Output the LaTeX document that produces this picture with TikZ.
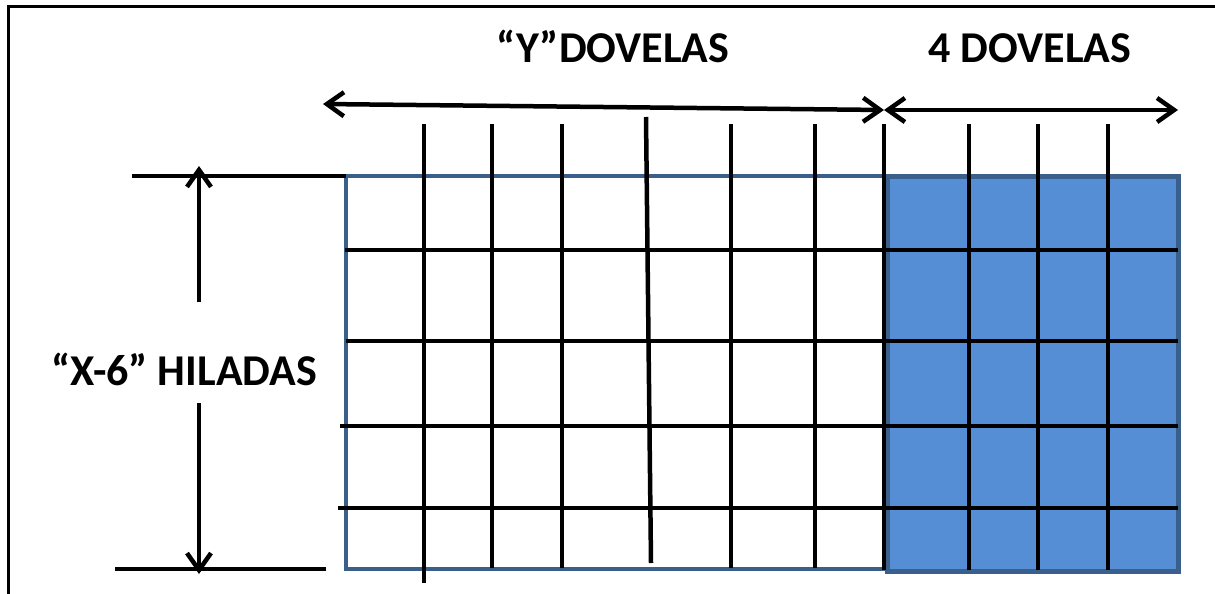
\documentclass[tikz,border=0pt]{standalone}
\usepackage{fontspec}
\setmainfont{Carlito}
\usetikzlibrary{arrows.meta}
\definecolor{edgeblue}{HTML}{3A5F8B}
\definecolor{fillblue}{HTML}{558ED5}
\begin{document}
\begin{tikzpicture}[x=1pt,y=-1pt,
  lbl/.style={font=\fontsize{44}{50}\selectfont\bfseries, inner sep=0pt, anchor=base},
  gridline/.style={line width=4.5pt, black},
  dimline/.style={line width=4.5pt, black},
  dimarrow/.style={dimline, {Straight Barb[length=17pt,width=24pt]}-{Straight Barb[length=17pt,width=24pt]}},
  uparrow/.style={dimline, -{Straight Barb[length=17pt,width=24pt]}}]
\useasboundingbox (0,0) rectangle (1215,594);

% outer frame (only top and left edges fall inside the page)
\draw[line width=3pt] (8,594) -- (8,7) -- (1215,7);

% panel of "Y" segments (white) and the 4 shaded segments
\draw[line width=4pt, edgeblue, fill=white] (346,176) rectangle (886,569);
\draw[line width=5pt, edgeblue, fill=fillblue] (887,176) rectangle (1178,571);

% courses (horizontal joints)
\coordinate (h1a) at (345,250);  \coordinate (h1b) at (1178,250);
\coordinate (h2a) at (346,341);  \coordinate (h2b) at (1178,341);
\coordinate (h3a) at (340,426);  \coordinate (h3b) at (1178,426);
\coordinate (h4a) at (338,508);  \coordinate (h4b) at (1178,508);
\foreach \i in {1,...,4} \draw[gridline] (h\i a) -- (h\i b);

% segment joints (vertical lines)
\coordinate (v1a) at (424,124); \coordinate (v1b) at (424,583);
\coordinate (v2a) at (492,124); \coordinate (v2b) at (492,568);
\coordinate (v3a) at (562,124); \coordinate (v3b) at (562,568);
\coordinate (v4a) at (646,117); \coordinate (v4b) at (651,563);
\coordinate (v5a) at (731,124); \coordinate (v5b) at (731,568);
\coordinate (v6a) at (815,124); \coordinate (v6b) at (815,568);
\coordinate (v7a) at (884,124); \coordinate (v7b) at (884,570);
\coordinate (v8a) at (969,124); \coordinate (v8b) at (969,570);
\coordinate (v9a) at (1038,124); \coordinate (v9b) at (1038,570);
\coordinate (v10a) at (1108,124); \coordinate (v10b) at (1108,570);
\foreach \i in {1,...,10} \draw[gridline] (v\i a) -- (v\i b);

% extension lines of the height dimension
\coordinate (etop1) at (132,176); \coordinate (etop2) at (346,176);
\coordinate (ebot1) at (115,569); \coordinate (ebot2) at (326,569);
\draw[dimline] (etop1) -- (etop2);
\draw[dimline] (ebot1) -- (ebot2);

% height dimension with its label
\node[lbl] (xtxt) at (184,385) {“X-6” HILADAS};
\coordinate (htop) at (199,166);
\coordinate (hup) at (199,302);
\coordinate (hdn) at (199,403);
\coordinate (hbot) at (199,574);
\draw[uparrow] (hup) -- (htop);
\draw[uparrow] (hdn) -- (hbot);

% width dimensions with their labels
\node[lbl] (ytxt) at (613,63) {“Y”DOVELAS};
\node[lbl] (ftxt) at (1030,63) {4 DOVELAS};
\coordinate (wa) at (323,104);
\coordinate (wb) at (884,110);
\coordinate (wc) at (1178,110);
\draw[dimarrow] (wa) -- (wb);
\draw[dimarrow] (wb) -- (wc);
\end{tikzpicture}
\end{document}
